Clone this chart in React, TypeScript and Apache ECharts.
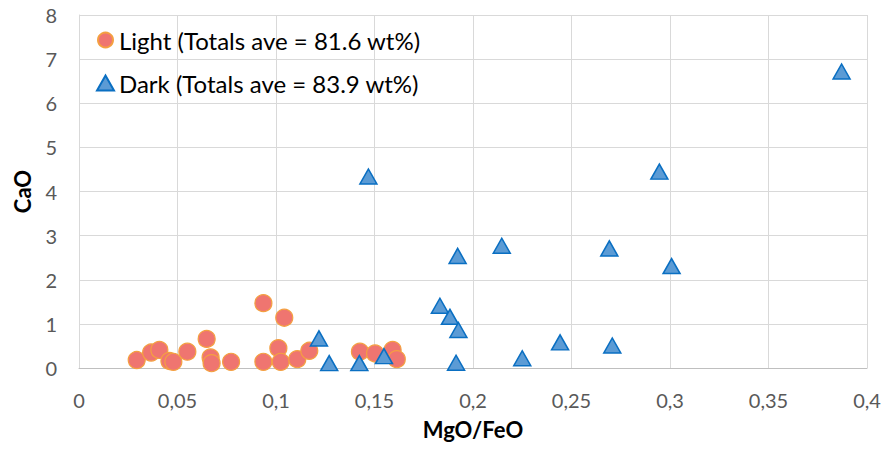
import React, { useEffect, useRef } from "react";
import * as echarts from "echarts";

const lightX = [0.0293, 0.0366, 0.0408, 0.0459, 0.0479, 0.055, 0.0648, 0.0668, 0.0673, 0.0772, 0.0936, 0.0936, 0.1042, 0.1012, 0.1024, 0.1108, 0.1169, 0.1426, 0.1503, 0.1592, 0.1613];
const lightY = [0.18, 0.35, 0.41, 0.16, 0.14, 0.37, 0.66, 0.24, 0.11, 0.14, 1.47, 0.14, 1.14, 0.45, 0.14, 0.2, 0.39, 0.37, 0.33, 0.41, 0.2];

const darkX = [0.1469, 0.1218, 0.127, 0.1423, 0.1548, 0.1832, 0.1883, 0.1926, 0.1914, 0.1922, 0.2146, 0.225, 0.3871, 0.2946, 0.2692, 0.3008, 0.2442, 0.2707];
const darkY = [4.34, 0.67, 0.11, 0.11, 0.27, 1.41, 1.16, 0.86, 0.12, 2.54, 2.77, 0.22, 6.72, 4.45, 2.71, 2.31, 0.58, 0.51];

const seriesNames = ["Light (Totals ave = 81.6 wt%)", "Dark (Totals ave = 83.9 wt%)"];
const xTitle = "MgO/FeO";
const yTitle = "CaO";

const FONT = "Lato, 'Open Sans', sans-serif";

export default function App() {
  const ref = useRef<HTMLDivElement>(null);
  useEffect(() => {
    if (!ref.current) return;
    const chart = echarts.init(ref.current, undefined, { renderer: "svg" });
    chart.setOption({
      animation: false,
      textStyle: { fontFamily: FONT },
      grid: { left: 79, right: 20, top: 15, bottom: 82, containLabel: false },
      legend: {
        orient: "vertical",
        left: 91,
        top: 22,
        itemGap: 17,
        itemWidth: 17,
        itemHeight: 15,
        textStyle: { fontSize: 24, lineHeight: 26, color: "#000", fontFamily: FONT },
        data: [
          { name: seriesNames[0], icon: "circle" },
          { name: seriesNames[1], icon: "triangle" },
        ],
      },
      xAxis: {
        type: "value",
        min: 0,
        max: 0.4,
        interval: 0.05,
        name: xTitle,
        nameLocation: "middle",
        nameGap: 50,
        nameTextStyle: { fontSize: 22, fontWeight: "bold", color: "#000", fontFamily: FONT },
        axisLine: { show: true, lineStyle: { color: "#bfbfbf", width: 1 } },
        axisTick: { show: false },
        axisLabel: {
          fontSize: 20,
          color: "#595959",
          margin: 22,
          fontFamily: FONT,
          formatter: (v: number) => String(+v.toFixed(2)).replace(".", ","),
        },
        splitLine: { show: true, lineStyle: { color: "#d9d9d9", width: 1 } },
      },
      yAxis: {
        type: "value",
        min: 0,
        max: 8,
        interval: 1,
        name: yTitle,
        nameLocation: "middle",
        nameGap: 46,
        nameTextStyle: { fontSize: 22, fontWeight: "bold", color: "#000", fontFamily: FONT },
        axisLine: { show: true, lineStyle: { color: "#d9d9d9", width: 1 } },
        axisTick: { show: false },
        axisLabel: { fontSize: 20, color: "#595959", margin: 22, fontFamily: FONT },
        splitLine: { show: true, lineStyle: { color: "#d9d9d9", width: 1 } },
      },
      series: [
        {
          name: seriesNames[0],
          type: "scatter",
          symbol: "circle",
          symbolSize: 17,
          itemStyle: { color: "#EF7570", borderColor: "#F4A041", borderWidth: 1.2, opacity: 1 },
          data: lightX.map((x, i) => [x, lightY[i]]),
        },
        {
          name: seriesNames[1],
          type: "scatter",
          symbol: "triangle",
          symbolSize: [17, 15],
          itemStyle: { color: "#5B9BD5", borderColor: "#0A6FC2", borderWidth: 1.5, opacity: 1 },
          data: darkX.map((x, i) => [x, darkY[i]]),
        },
      ],
    });
    return () => chart.dispose();
  }, []);
  return <div ref={ref} style={{ width: 887, height: 450, position: "absolute", left: 0, top: 0 }} />;
}
